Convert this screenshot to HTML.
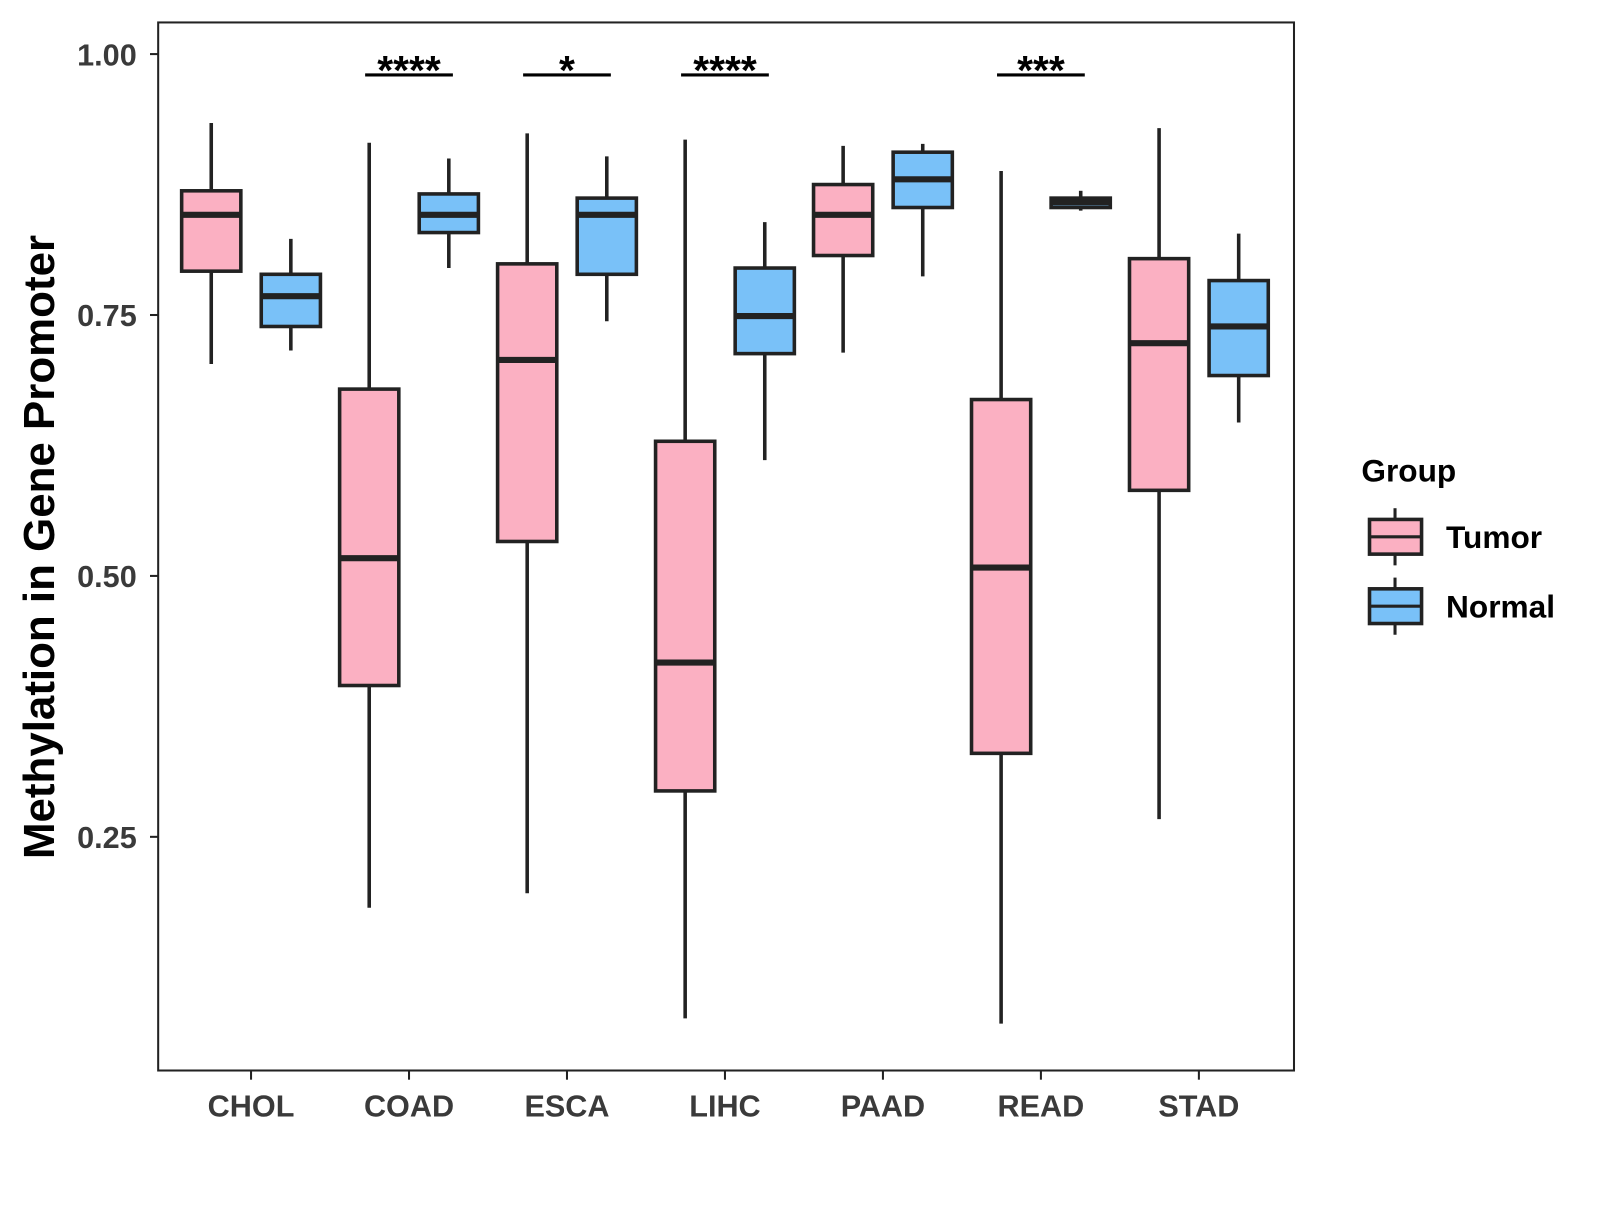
<!DOCTYPE html>
<html><head><meta charset="utf-8"><style>
body{margin:0;background:#fff;overflow:hidden}
svg text{font-family:"Liberation Sans",sans-serif;font-weight:bold}
</style></head><body>
<svg width="1600" height="1200" xmlns="http://www.w3.org/2000/svg"><g id="chart" transform="scale(1.0205)"></g></svg>
<script>
const categories=["CHOL","COAD","ESCA","LIHC","PAAD","READ","STAD"];
const tumorStats=[[0.703,0.792,0.846,0.869,0.934],[0.182,0.395,0.517,0.679,0.915],[0.196,0.533,0.707,0.799,0.924],[0.076,0.294,0.417,0.629,0.918],[0.714,0.807,0.846,0.875,0.912],[0.071,0.330,0.508,0.669,0.888],[0.267,0.582,0.723,0.804,0.929]];
const normalStats=[[0.716,0.739,0.768,0.789,0.823],[0.795,0.829,0.846,0.866,0.900],[0.744,0.789,0.846,0.862,0.902],[0.611,0.713,0.749,0.795,0.839],[0.787,0.853,0.880,0.906,0.914],[0.850,0.853,0.858,0.862,0.869],[0.647,0.692,0.739,0.783,0.828]];
const sigLabels=["","****","*","****","","***",""];
const yTicks=[0.25,0.5,0.75,1.0];
const yTickLabels=["0.25","0.50","0.75","1.00"];
const NS="http://www.w3.org/2000/svg";
const svg=document.getElementById('chart');
const P={l:155,t:22,r:1268,b:1049};
const y=v=>53+(1-v)*1022.7;
const x=i=>246+i*154.8;
function el(t,a,txt){const e=document.createElementNS(NS,t);for(const k in a)e.setAttribute(k,a[k]);if(txt!==undefined)e.textContent=txt;svg.appendChild(e);return e;}
let e=el('rect',{x:P.l,y:P.t,width:P.r-P.l,height:P.b-P.t,fill:'none',stroke:'#222','stroke-width':2});


yTicks.forEach((v,i)=>{
 let t=el('line',{x1:P.l-8,x2:P.l,y1:y(v),y2:y(v),stroke:'#222','stroke-width':2});
 
 
 let l=el('text',{x:P.l-21,y:y(v)+11,'text-anchor':'end','font-size':30,fill:'#3a3a3a'},yTickLabels[i]);
 
 
});
function box(cx,s,fill,name){
 const w=58;
 let g=el('line',{x1:cx,x2:cx,y1:y(s[4]),y2:y(s[0]),stroke:'#222','stroke-width':3.5});
 
 
 let r=el('rect',{x:cx-w/2,y:y(s[3]),width:w,height:y(s[1])-y(s[3]),fill:fill,stroke:'#222','stroke-width':3.5});
 
 
 let m=el('line',{x1:cx-w/2,x2:cx+w/2,y1:y(s[2]),y2:y(s[2]),stroke:'#222','stroke-width':6});
 
 
}
categories.forEach((c,i)=>{
 box(x(i)-39,tumorStats[i],'#fbb0c2',c.toLowerCase()+'-tumor');
 box(x(i)+39,normalStats[i],'#79c1f8',c.toLowerCase()+'-normal');
 let t=el('line',{x1:x(i),x2:x(i),y1:P.b,y2:P.b+9,stroke:'#222','stroke-width':2});
 
 
 let l=el('text',{x:x(i),y:1094,'text-anchor':'middle','font-size':30,fill:'#3a3a3a'},c);
 
 
 if(sigLabels[i]){
  let b=el('line',{x1:x(i)-43,x2:x(i)+43,y1:y(0.98),y2:y(0.98),stroke:'#000','stroke-width':3});
  
  
  let s=el('text',{x:x(i),y:y(0.98)+9,'text-anchor':'middle','font-size':40,fill:'#000'},sigLabels[i]);
  
  
 }
});
let yt=el('text',{x:0,y:0,transform:'translate(53,536) rotate(-90)','text-anchor':'middle','font-size':43,fill:'#000'},'Methylation in Gene Promoter');


let lt=el('text',{x:1334,y:472,'font-size':31,fill:'#000'},'Group');


[['Tumor','#fbb0c2',526],['Normal','#79c1f8',594]].forEach(([n,f,cy])=>{
 let w=el('line',{x1:1367,x2:1367,y1:cy-28,y2:cy+28,stroke:'#222','stroke-width':3});
 
 
 let r=el('rect',{x:1342,y:cy-17,width:51,height:34,fill:f,stroke:'#222','stroke-width':3.5});
 
 
 let m=el('line',{x1:1342,x2:1393,y1:cy,y2:cy,stroke:'#222','stroke-width':3});
 
 
 let t=el('text',{x:1417,y:cy+11,'font-size':31,fill:'#000'},n);
 
 
});
</script>
</body></html>
